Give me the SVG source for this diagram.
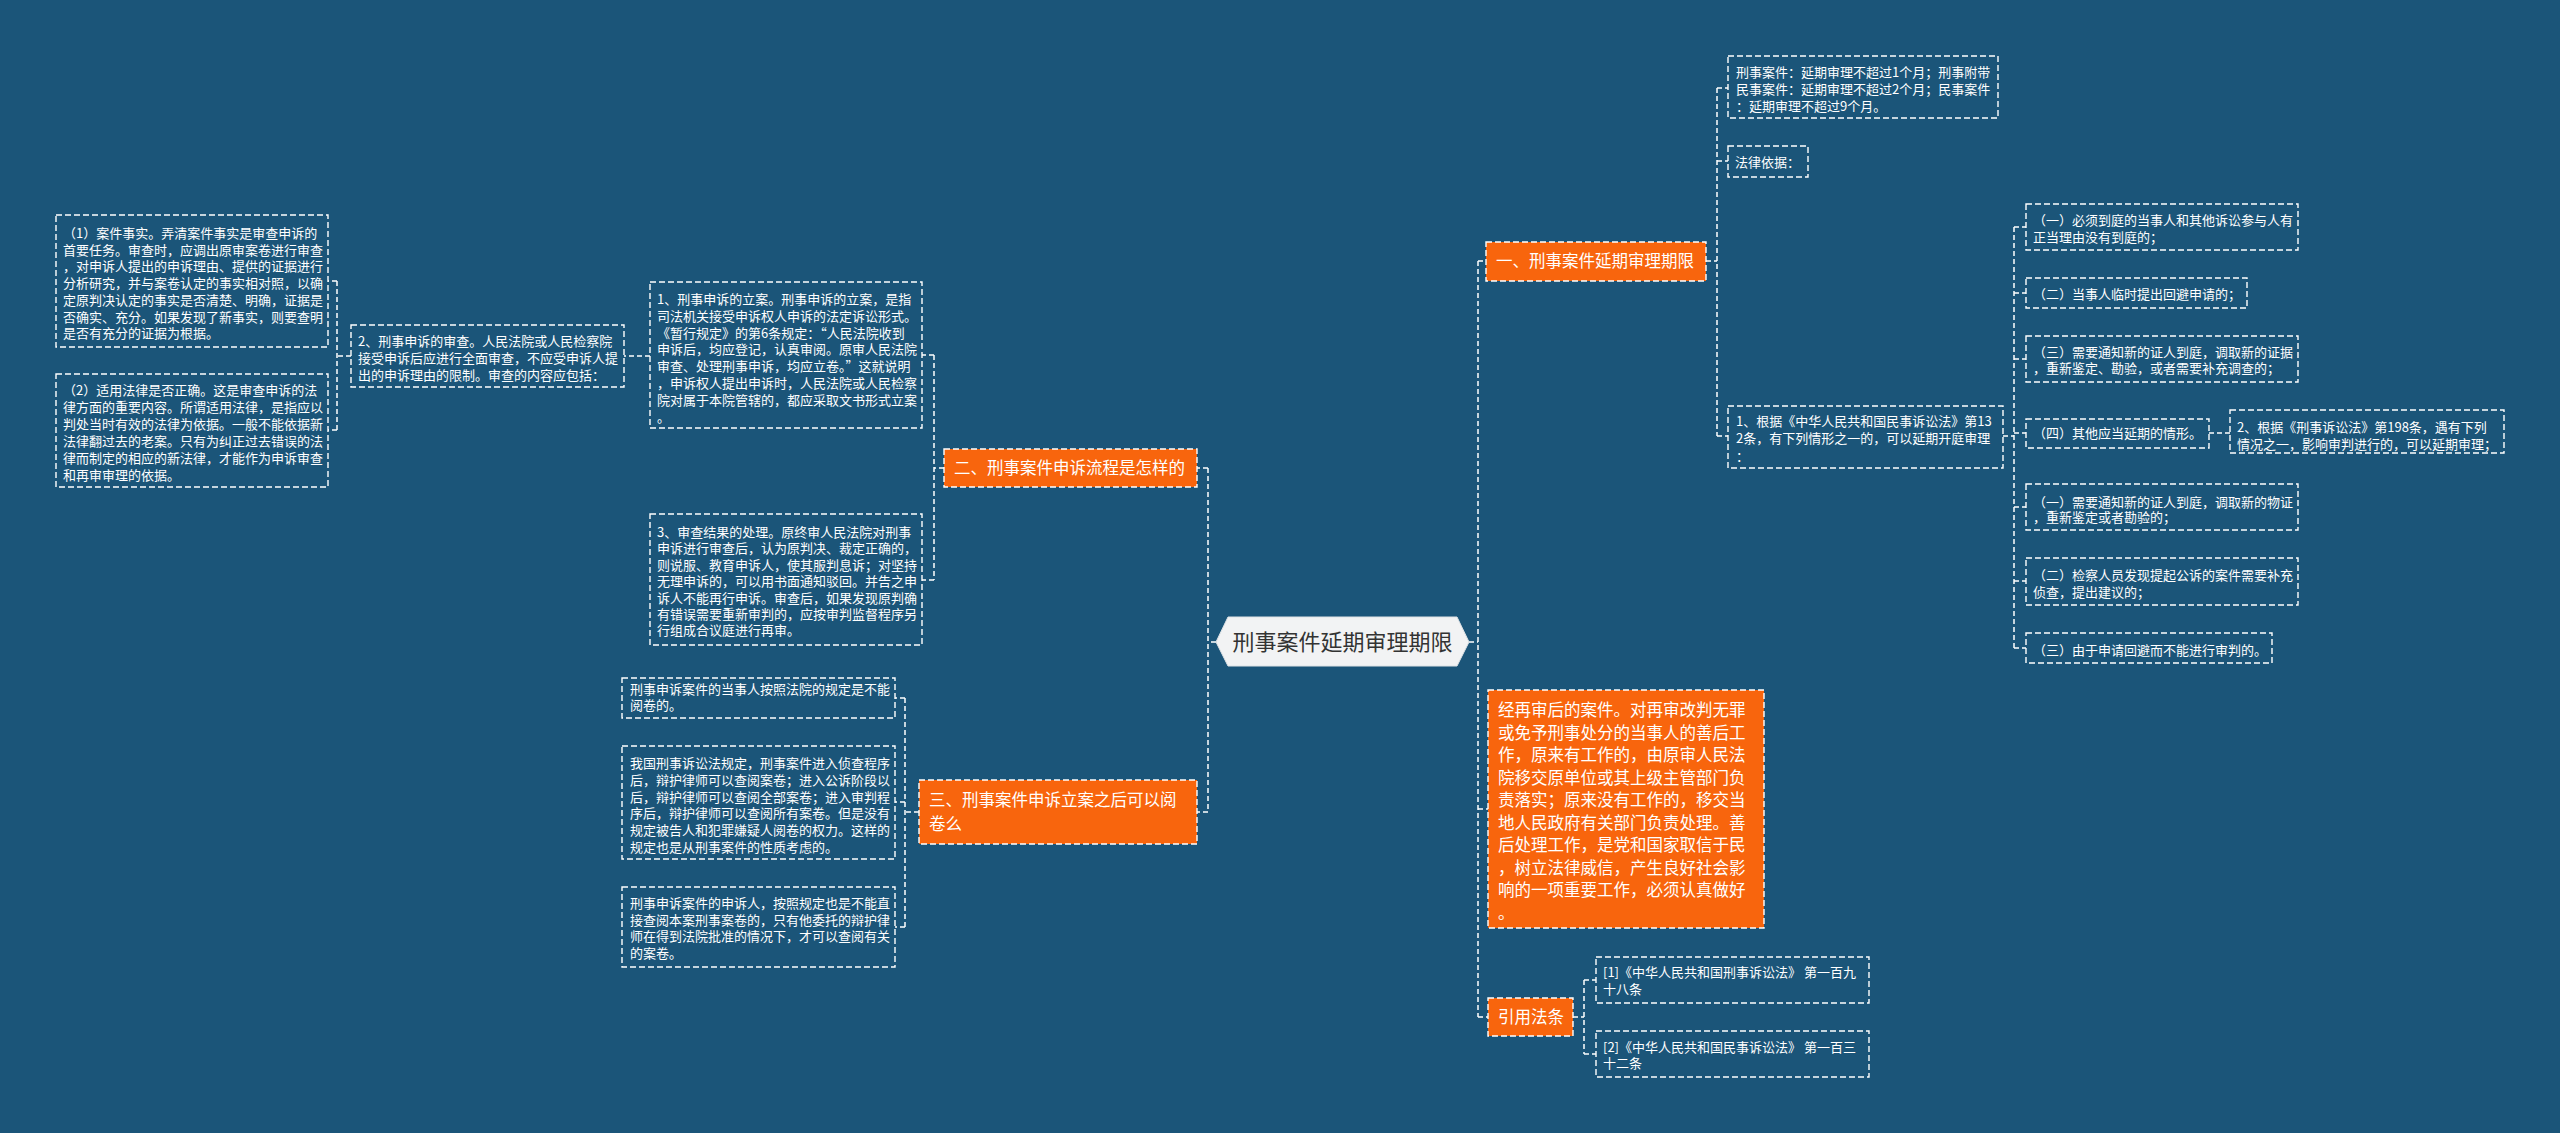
<svg xmlns="http://www.w3.org/2000/svg" width="2560" height="1133" viewBox="0 0 2560 1133">
<style>
.t{font-family:"Noto Sans CJK SC","Liberation Sans",sans-serif;font-size:13px;fill:#ffffff}
.ot{font-family:"Noto Sans CJK SC","Liberation Sans",sans-serif;font-size:16.5px;fill:#ffffff}
.box{fill:none;stroke:#ffffff;stroke-width:1.4;stroke-dasharray:6 3}
.obox{fill:#f8650d;stroke:#ffffff;stroke-width:1.4;stroke-dasharray:6 3}
.conn path{fill:none;stroke:#ffffff;stroke-width:1.5;stroke-dasharray:5 3}
</style>
<rect width="2560" height="1133" fill="#1b5579"/>

<g id="connectors" class="conn">
<path d="M1216,642 H1208 M1208,468 V812 M1208,468 H1197 M1208,812 H1197"/>
<path d="M944,468 H934 M934,355 V580 M934,355 H922 M934,580 H922"/>
<path d="M650,356 H624"/>
<path d="M351,356 H337 M337,281 V430 M337,281 H328 M337,430 H328"/>
<path d="M919,812 H905 M905,698 V927 M905,698 H895 M905,802 H895 M905,927 H895"/>
<path d="M1469,642 H1478 M1478,261 V1017 M1478,261 H1486 M1478,809 H1488 M1478,1017 H1488"/>
<path d="M1706,261 H1717 M1717,88 V436 M1717,88 H1728 M1717,161 H1728 M1717,436 H1728"/>
<path d="M2003,436 H2014 M2014,227 V648 M2014,227 H2026 M2014,293 H2026 M2014,359 H2026 M2014,433 H2026 M2014,507 H2026 M2014,581 H2026 M2014,648 H2026"/>
<path d="M2209,433 H2230"/>
<path d="M1573,1017 H1584 M1584,980 V1054 M1584,980 H1596 M1584,1054 H1596"/>
</g>

<g id="center">
<polygon points="1216,642 1228,617 1457,617 1469,642 1457,666 1228,666" fill="#f2f3f4" stroke="#dfe3e6" stroke-width="1"/>
<text x="1342.5" y="650" text-anchor="middle" style="font-family:'Noto Sans CJK SC','Liberation Sans',sans-serif;font-size:22px;fill:#333333">刑事案件延期审理期限</text>
</g>

<g id="sec2">
<rect class="obox" x="944" y="449" width="253" height="38"/>
<text class="ot" x="954" y="474">二、刑事案件申诉流程是怎样的</text>
</g>

<g id="sec2-item1">
<rect class="box" x="650" y="282" width="272" height="146"/>
<text class="t"><tspan x="657" y="304">1、刑事申诉的立案。刑事申诉的立案，是指</tspan><tspan x="657" y="320.8">司法机关接受申诉权人申诉的法定诉讼形式。</tspan><tspan x="657" y="337.6">《暂行规定》的第6条规定：“人民法院收到</tspan><tspan x="657" y="354.4">申诉后，均应登记，认真审阅。原审人民法院</tspan><tspan x="657" y="371.2">审查、处理刑事申诉，均应立卷。”这就说明</tspan><tspan x="657" y="388">，申诉权人提出申诉时，人民法院或人民检察</tspan><tspan x="657" y="404.8">院对属于本院管辖的，都应采取文书形式立案</tspan><tspan x="657" y="421.6">。</tspan></text>
</g>

<g id="sec2-item2">
<rect class="box" x="351" y="325" width="273" height="62"/>
<text class="t"><tspan x="358" y="346">2、刑事申诉的审查。人民法院或人民检察院</tspan><tspan x="358" y="363">接受申诉后应进行全面审查，不应受申诉人提</tspan><tspan x="358" y="380">出的申诉理由的限制。审查的内容应包括：</tspan></text>
</g>

<g id="sec2-item2-1">
<rect class="box" x="56" y="215" width="272" height="132"/>
<text class="t"><tspan x="63" y="238">（1）案件事实。弄清案件事实是审查申诉的</tspan><tspan x="63" y="254.7">首要任务。审查时，应调出原审案卷进行审查</tspan><tspan x="63" y="271.4">，对申诉人提出的申诉理由、提供的证据进行</tspan><tspan x="63" y="288.1">分析研究，并与案卷认定的事实相对照，以确</tspan><tspan x="63" y="304.8">定原判决认定的事实是否清楚、明确，证据是</tspan><tspan x="63" y="321.5">否确实、充分。如果发现了新事实，则要查明</tspan><tspan x="63" y="338.2">是否有充分的证据为根据。</tspan></text>
</g>

<g id="sec2-item2-2">
<rect class="box" x="56" y="374" width="272" height="113"/>
<text class="t"><tspan x="63" y="395">（2）适用法律是否正确。这是审查申诉的法</tspan><tspan x="63" y="412">律方面的重要内容。所谓适用法律，是指应以</tspan><tspan x="63" y="429">判处当时有效的法律为依据。一般不能依据新</tspan><tspan x="63" y="446">法律翻过去的老案。只有为纠正过去错误的法</tspan><tspan x="63" y="463">律而制定的相应的新法律，才能作为申诉审查</tspan><tspan x="63" y="480">和再审审理的依据。</tspan></text>
</g>

<g id="sec2-item3">
<rect class="box" x="650" y="514" width="272" height="131"/>
<text class="t"><tspan x="657" y="537">3、审查结果的处理。原终审人民法院对刑事</tspan><tspan x="657" y="553.4">申诉进行审查后，认为原判决、裁定正确的，</tspan><tspan x="657" y="569.8">则说服、教育申诉人，使其服判息诉；对坚持</tspan><tspan x="657" y="586.2">无理申诉的，可以用书面通知驳回。并告之申</tspan><tspan x="657" y="602.6">诉人不能再行申诉。审查后，如果发现原判确</tspan><tspan x="657" y="619">有错误需要重新审判的，应按审判监督程序另</tspan><tspan x="657" y="635.4">行组成合议庭进行再审。</tspan></text>
</g>

<g id="sec3">
<rect class="obox" x="919" y="780" width="278" height="64"/>
<text class="ot"><tspan x="929" y="806">三、刑事案件申诉立案之后可以阅</tspan><tspan x="929" y="830">卷么</tspan></text>
</g>

<g id="sec3-a">
<rect class="box" x="622" y="678" width="273" height="40"/>
<text class="t"><tspan x="630" y="694">刑事申诉案件的当事人按照法院的规定是不能</tspan><tspan x="630" y="710">阅卷的。</tspan></text>
</g>

<g id="sec3-b">
<rect class="box" x="622" y="746" width="273" height="113"/>
<text class="t"><tspan x="630" y="768">我国刑事诉讼法规定，刑事案件进入侦查程序</tspan><tspan x="630" y="784.8">后，辩护律师可以查阅案卷；进入公诉阶段以</tspan><tspan x="630" y="801.6">后，辩护律师可以查阅全部案卷；进入审判程</tspan><tspan x="630" y="818.4">序后，辩护律师可以查阅所有案卷。但是没有</tspan><tspan x="630" y="835.2">规定被告人和犯罪嫌疑人阅卷的权力。这样的</tspan><tspan x="630" y="852">规定也是从刑事案件的性质考虑的。</tspan></text>
</g>

<g id="sec3-c">
<rect class="box" x="622" y="887" width="273" height="80"/>
<text class="t"><tspan x="630" y="908">刑事申诉案件的申诉人，按照规定也是不能直</tspan><tspan x="630" y="924.5">接查阅本案刑事案卷的，只有他委托的辩护律</tspan><tspan x="630" y="941">师在得到法院批准的情况下，才可以查阅有关</tspan><tspan x="630" y="957.5">的案卷。</tspan></text>
</g>

<g id="sec1">
<rect class="obox" x="1486" y="242" width="220" height="39"/>
<text class="ot" x="1496" y="267">一、刑事案件延期审理期限</text>
</g>

<g id="sec1-a">
<rect class="box" x="1728" y="56" width="270" height="62"/>
<text class="t"><tspan x="1736" y="77">刑事案件：延期审理不超过1个月；刑事附带</tspan><tspan x="1736" y="94">民事案件：延期审理不超过2个月；民事案件</tspan><tspan x="1736" y="111">：延期审理不超过9个月。</tspan></text>
</g>

<g id="sec1-b">
<rect class="box" x="1728" y="146" width="80" height="31"/>
<text class="t" x="1735" y="167">法律依据：</text>
</g>

<g id="sec1-c">
<rect class="box" x="1728" y="406" width="275" height="62"/>
<text class="t"><tspan x="1736" y="426">1、根据《中华人民共和国民事诉讼法》第13</tspan><tspan x="1736" y="443">2条，有下列情形之一的，可以延期开庭审理</tspan><tspan x="1736" y="461">：</tspan></text>
</g>

<g id="c-1">
<rect class="box" x="2026" y="204" width="272" height="46"/>
<text class="t"><tspan x="2033" y="225">（一）必须到庭的当事人和其他诉讼参与人有</tspan><tspan x="2033" y="242">正当理由没有到庭的；</tspan></text>
</g>
<g id="c-2">
<rect class="box" x="2026" y="278" width="221" height="30"/>
<text class="t" x="2033" y="299">（二）当事人临时提出回避申请的；</text>
</g>
<g id="c-3">
<rect class="box" x="2026" y="336" width="272" height="46"/>
<text class="t"><tspan x="2033" y="357">（三）需要通知新的证人到庭，调取新的证据</tspan><tspan x="2033" y="373">，重新鉴定、勘验，或者需要补充调查的；</tspan></text>
</g>
<g id="c-4">
<rect class="box" x="2026" y="419" width="183" height="29"/>
<text class="t" x="2033" y="438">（四）其他应当延期的情形。</text>
</g>
<g id="c-4-1">
<rect class="box" x="2230" y="410" width="274" height="43"/>
<text class="t"><tspan x="2237" y="432">2、根据《刑事诉讼法》第198条，遇有下列</tspan><tspan x="2237" y="449">情况之一，影响审判进行的，可以延期审理；</tspan></text>
</g>
<g id="d-1">
<rect class="box" x="2026" y="484" width="272" height="46"/>
<text class="t"><tspan x="2033" y="507">（一）需要通知新的证人到庭，调取新的物证</tspan><tspan x="2033" y="522">，重新鉴定或者勘验的；</tspan></text>
</g>
<g id="d-2">
<rect class="box" x="2026" y="558" width="272" height="47"/>
<text class="t"><tspan x="2033" y="580">（二）检察人员发现提起公诉的案件需要补充</tspan><tspan x="2033" y="597">侦查，提出建议的；</tspan></text>
</g>
<g id="d-3">
<rect class="box" x="2026" y="633" width="246" height="30"/>
<text class="t" x="2033" y="655">（三）由于申请回避而不能进行审判的。</text>
</g>

<g id="sec4">
<rect class="obox" x="1488" y="690" width="276" height="238"/>
<text class="ot"><tspan x="1498" y="716.3">经再审后的案件。对再审改判无罪</tspan><tspan x="1498" y="738.8">或免予刑事处分的当事人的善后工</tspan><tspan x="1498" y="761.3">作，原来有工作的，由原审人民法</tspan><tspan x="1498" y="783.8">院移交原单位或其上级主管部门负</tspan><tspan x="1498" y="806.3">责落实；原来没有工作的，移交当</tspan><tspan x="1498" y="828.8">地人民政府有关部门负责处理。善</tspan><tspan x="1498" y="851.3">后处理工作，是党和国家取信于民</tspan><tspan x="1498" y="873.8">，树立法律威信，产生良好社会影</tspan><tspan x="1498" y="896.3">响的一项重要工作，必须认真做好</tspan><tspan x="1498" y="918.8">。</tspan></text>
</g>

<g id="sec5">
<rect class="obox" x="1488" y="998" width="85" height="38"/>
<text class="ot" x="1498" y="1023">引用法条</text>
</g>
<g id="ref1">
<rect class="box" x="1596" y="957" width="273" height="46"/>
<text class="t"><tspan x="1603" y="977">[1]《中华人民共和国刑事诉讼法》 第一百九</tspan><tspan x="1603" y="994">十八条</tspan></text>
</g>
<g id="ref2">
<rect class="box" x="1596" y="1031" width="273" height="46"/>
<text class="t"><tspan x="1603" y="1052">[2]《中华人民共和国民事诉讼法》 第一百三</tspan><tspan x="1603" y="1068">十二条</tspan></text>
</g>
</svg>
